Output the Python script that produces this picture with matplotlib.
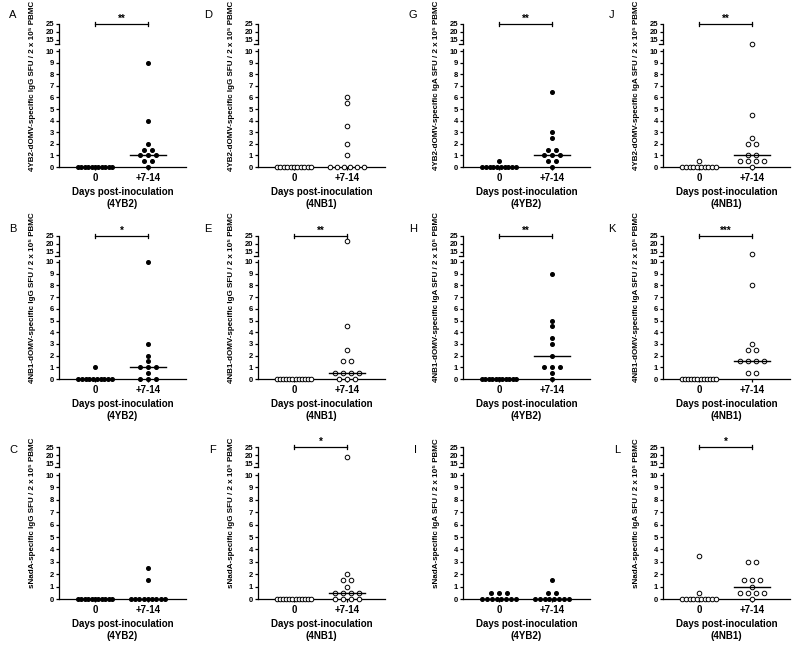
import numpy as np
import matplotlib.pyplot as plt

plt.rcParams['font.family'] = ['Liberation Sans', 'DejaVu Sans']

# ---- data (SFU / 2 x 10^5 PBMC), day 0 vs day +7-14 ----
a_d0 = [0, 0, 0, 0, 0, 0, 0, 0, 0, 0, 0]
a_d7 = [9, 4, 2, 1.5, 1.5, 1, 1, 1, 0.5, 0.5, 0]
d_d0 = [0, 0, 0, 0, 0, 0, 0, 0, 0, 0, 0]
d_d7 = [6, 5.5, 3.5, 2, 1, 0, 0, 0, 0, 0, 0]
g_d0 = [0.5, 0, 0, 0, 0, 0, 0, 0, 0, 0, 0]
g_d7 = [6.5, 3, 2.5, 1.5, 1.5, 1, 1, 1, 0.5, 0.5, 0]
j_d0 = [0.5, 0, 0, 0, 0, 0, 0, 0, 0, 0, 0]
j_d7 = [12.8, 4.5, 2.5, 2, 2, 1, 1, 0.5, 0.5, 0.5, 0.5, 0]

b_d0 = [1, 0, 0, 0, 0, 0, 0, 0, 0, 0, 0]
b_d7 = [10, 3, 2, 1.5, 1, 1, 1, 0.5, 0, 0, 0]
e_d0 = [0, 0, 0, 0, 0, 0, 0, 0, 0, 0, 0, 0]
e_d7 = [22, 4.5, 2.5, 1.5, 1.5, 0.5, 0.5, 0.5, 0.5, 0, 0, 0]
h_d0 = [0, 0, 0, 0, 0, 0, 0, 0, 0, 0, 0]
h_d7 = [9, 5, 4.5, 3.5, 3, 2, 1, 1, 1, 0.5, 0]
k_d0 = [0, 0, 0, 0, 0, 0, 0, 0, 0, 0, 0, 0]
k_d7 = [13.5, 8, 3, 2.5, 2.5, 1.5, 1.5, 1.5, 1.5, 0.5, 0.5]

c_d0 = [0, 0, 0, 0, 0, 0, 0, 0, 0, 0, 0]
c_d7 = [2.5, 1.5, 0, 0, 0, 0, 0, 0, 0, 0, 0]
f_d0 = [0, 0, 0, 0, 0, 0, 0, 0, 0, 0, 0, 0]
f_d7 = [19, 2, 1.5, 1.5, 1, 0.5, 0.5, 0.5, 0.5, 0, 0, 0, 0]
i_d0 = [0.5, 0.5, 0.5, 0, 0, 0, 0, 0, 0, 0, 0]
i_d7 = [1.5, 0.5, 0.5, 0, 0, 0, 0, 0, 0, 0, 0]
l_d0 = [3.5, 0.5, 0, 0, 0, 0, 0, 0, 0, 0, 0, 0]
l_d7 = [3, 3, 1.5, 1.5, 1.5, 1, 0.5, 0.5, 0.5, 0.5, 0]

letters = [['A', 'D', 'G', 'J'], ['B', 'E', 'H', 'K'], ['C', 'F', 'I', 'L']]
day0 = [[a_d0, d_d0, g_d0, j_d0], [b_d0, e_d0, h_d0, k_d0], [c_d0, f_d0, i_d0, l_d0]]
day7 = [[a_d7, d_d7, g_d7, j_d7], [b_d7, e_d7, h_d7, k_d7], [c_d7, f_d7, i_d7, l_d7]]
signif = [['**', '', '**', '**'], ['*', '**', '**', '***'], ['', '*', '', '*']]
antigens = ['4YB2-dOMV', '4NB1-dOMV', 'sNadA']
isotypes = ['IgG', 'IgG', 'IgA', 'IgA']
inoculum = ['4YB2', '4NB1', '4YB2', '4NB1']
xticklabels = ['0', '+7-14']

# ---- layout in pixels ----
W, H = 800, 646
fig = plt.figure(figsize=(W / 100, H / 100), dpi=100)

col_left = [59, 258, 463, 663]
ax_w = 127
row_y0 = [167, 379, 599]    # pixel row of value 0
row_y10 = [51, 262, 475]    # pixel row of value 10
row_y25 = [24, 236, 447]    # pixel row of value 25
letter_pos = [[(13, 15), (208, 15), (413, 15), (612, 15)],
              [(13, 229), (208, 229), (413, 229), (612, 229)],
              [(13, 450), (213, 450), (415, 450), (617, 450)]]


def px_axes(left, bottom, width, height):
    return fig.add_axes([left / W, (H - bottom) / H, width / W, height / H])


def swarm(vals, center, sp=0.15, wmax=0.64):
    vals = np.asarray(vals, float)
    xs = np.zeros(len(vals))
    for v in np.unique(vals):
        idx = np.where(vals == v)[0]
        k = len(idx)
        s = sp if k < 2 else min(sp, wmax / (k - 1))
        xs[idx] = center + (np.arange(k) - (k - 1) / 2) * s
    return xs


XLIM = (-0.68, 1.72)
LO_TOP = 10.15
HI_LIM = (12.5, 25)
lw = 0.9

for r in range(3):
    for c in range(4):
        xl = col_left[c]
        y0, y10, y25 = row_y0[r], row_y10[r], row_y25[r]
        ppu = (y0 - y10) / 10.0
        lo = px_axes(xl, y0, ax_w, LO_TOP * ppu)
        hi_h = 20
        hi = px_axes(xl, y25 + hi_h, ax_w, hi_h)

        for ax in (lo, hi):
            ax.set_xlim(*XLIM)
            ax.spines['top'].set_visible(False)
            ax.spines['right'].set_visible(False)
            ax.spines['left'].set_linewidth(lw)
            ax.spines['bottom'].set_linewidth(lw)
            ax.tick_params(axis='y', length=2.5, width=lw, pad=1,
                           labelsize=5.5)
            ax.patch.set_alpha(0)
        lo.set_ylim(0, LO_TOP)
        hi.set_ylim(*HI_LIM)
        lo.set_yticks(range(0, 11))
        hi.set_yticks([15, 20, 25])
        for ax in (lo, hi):
            for t in ax.get_yticklabels():
                t.set_fontweight('bold')
        hi.spines['bottom'].set_visible(False)
        hi.set_xticks([])
        lo.set_xticks([0, 1])
        lo.set_xticklabels(xticklabels, fontsize=7, fontweight='bold')
        lo.tick_params(axis='x', length=2.5, width=lw, pad=2)
        lo.set_xlabel('Days post-inoculation\n(' + inoculum[c] + ')',
                      fontsize=7, fontweight='bold', labelpad=3,
                      linespacing=1.25)

        # break mark at the bottom of the upper segment
        hi.plot([-0.03, 0], [0, 0], transform=hi.transAxes, color='black',
                lw=lw, clip_on=False)

        filled = (c % 2 == 0)
        for gx, vals in ((0, day0[r][c]), (1, day7[r][c])):
            vals = np.asarray(vals, float)
            xs = swarm(vals, gx)
            for ax, mask in ((lo, vals <= 10.5), (hi, vals > 10.5)):
                if filled:
                    ax.plot(xs[mask], vals[mask], 'o', ms=2.6, color='black',
                            clip_on=False, zorder=3)
                else:
                    ax.plot(xs[mask], vals[mask], 'o', ms=3.3, mfc='white',
                            mec='black', mew=0.7, clip_on=False, zorder=3)
            m = np.median(vals)
            if m > 0:
                lo.plot([gx - 0.34, gx + 0.34], [m, m], color='black',
                        lw=1.0, zorder=4)

        s = signif[r][c]
        if s:
            hi.plot([0, 1], [25, 25], color='black', lw=lw, clip_on=False)
            for ex in (0, 1):
                hi.plot([ex, ex], [23.8, 26.2], color='black', lw=lw,
                        clip_on=False)
            hi.text(0.5, 25.4, s, ha='center', va='bottom', fontsize=7,
                    fontweight='bold', clip_on=False)

        ylab = antigens[r] + '-specific ' + isotypes[c] + \
            ' SFU / 2 x 10\u2075 PBMC'
        fig.text((xl - 26) / W, 1 - ((y25 + y0) / 2 - 10) / H, ylab,
                 rotation=90, ha='center', va='center', fontsize=5.8,
                 fontweight='bold')
        lx, ly = letter_pos[r][c]
        fig.text(lx / W, 1 - ly / H, letters[r][c], ha='center',
                 va='center', fontsize=8)

fig.savefig('out.png', dpi=100)
